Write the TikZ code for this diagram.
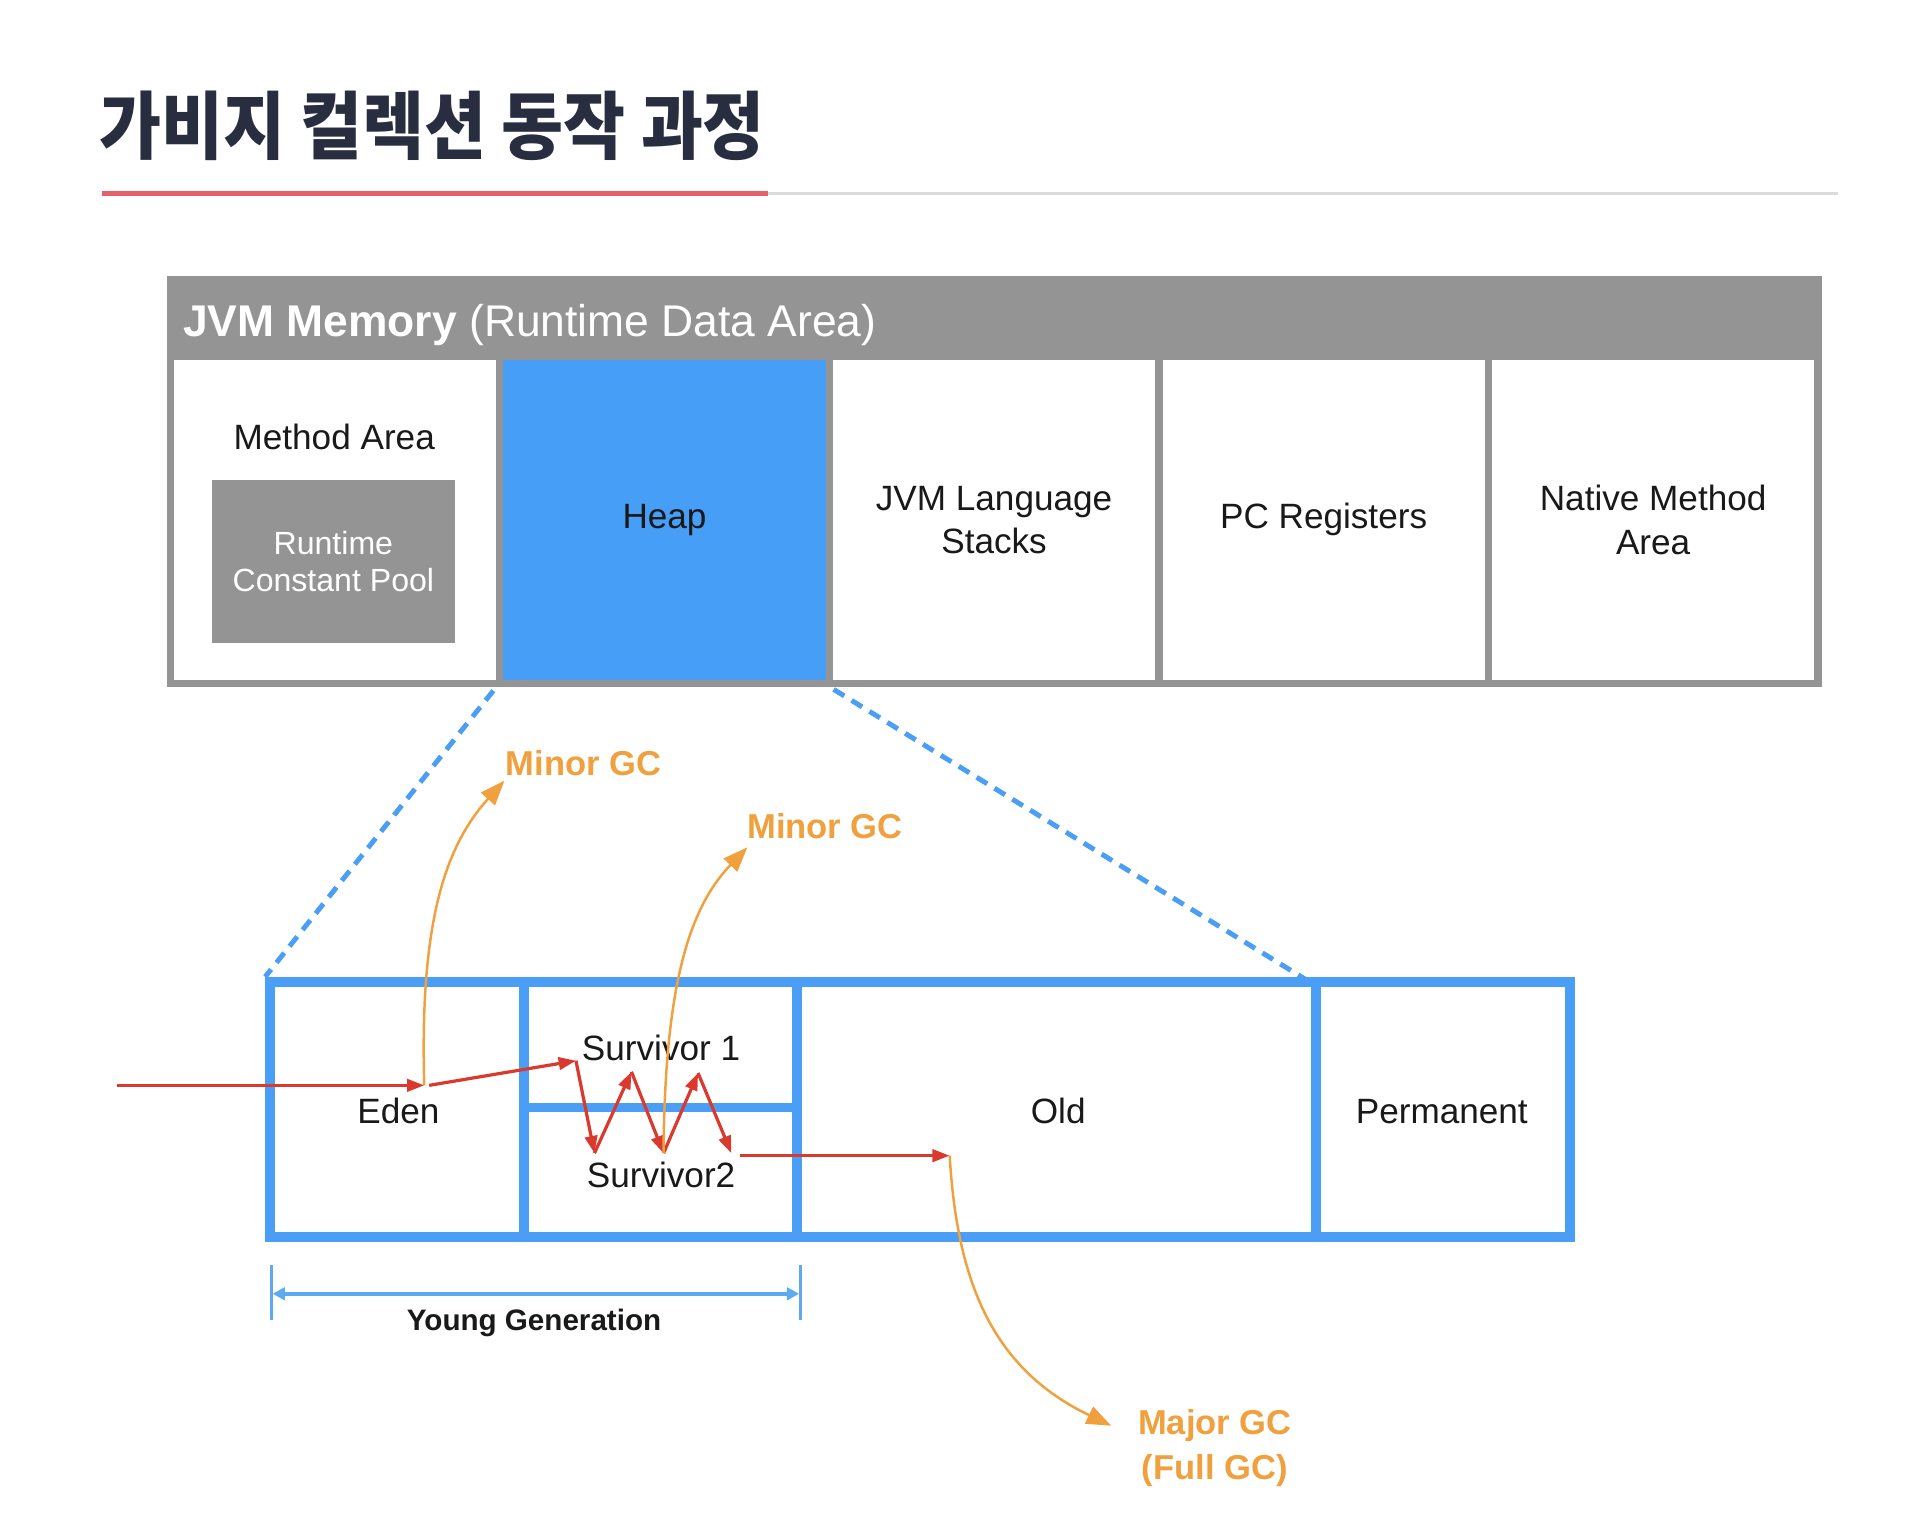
\documentclass[tikz,border=0pt]{standalone}
\usepackage{fontspec}
\usepackage{graphicx}
\setmainfont{Liberation Sans}
\newfontfamily\krfont{Noto Sans CJK KR}
\usetikzlibrary{arrows.meta}
\definecolor{titlec}{RGB}{40,45,63}
\definecolor{redline}{RGB}{229,97,106}
\definecolor{grayline}{RGB}{220,218,220}
\definecolor{jvmgray}{RGB}{148,148,148}
\definecolor{heapblue}{RGB}{71,158,246}
\definecolor{boxblue}{RGB}{74,158,245}
\definecolor{arrred}{RGB}{218,58,46}
\definecolor{gcorange}{RGB}{240,160,60}
\definecolor{yblue}{RGB}{92,170,240}
\definecolor{labelc}{RGB}{25,25,25}
\begin{document}
\begin{tikzpicture}[x=0.5pt,y=-0.5pt,
  cellbox/.style={draw=none,inner sep=0pt,align=center,text=labelc,
    font=\fontsize{14.25}{17.5}\selectfont},
  compart/.style={draw=boxblue,line width=4pt,inner sep=0pt,text=labelc,
    font=\fontsize{14.25}{17.5}\selectfont},
  lbl/.style={inner sep=0pt,align=center,text=labelc,
    font=\fontsize{14.25}{17.5}\selectfont},
  gclbl/.style={inner sep=0pt,align=center,text=gcorange,
    font=\bfseries\fontsize{14}{18}\selectfont},
  redarrow/.style={draw=arrred,line width=1.3pt,
    -{Triangle[length=7pt,width=5pt]}},
  orangearrow/.style={draw=gcorange,line width=1pt,
    -{Triangle[length=10pt,width=7.5pt]}},
  dashblue/.style={draw=boxblue,line width=2pt,dash pattern=on 5pt off 3.5pt},
  ytick/.style={draw=yblue,line width=1pt},
  yarrow/.style={draw=yblue,line width=1.5pt,
    {Triangle[length=5pt,width=5pt]}-{Triangle[length=5pt,width=5pt]}}
]
\useasboundingbox (0,0) rectangle (1560,1244);
\fill[white] (0,0) rectangle (1560,1244);

% title
\node[anchor=west,inner sep=0pt,text=titlec] (title) at (80,102)
  {\krfont\bfseries\fontsize{30}{30}\selectfont\scalebox{0.91}[1]{가비지 컬렉션 동작 과정}};
\draw[redline,line width=2pt] (83,157) -- (623,157);
\draw[grayline,line width=1.5pt] (623,157) -- (1490,157);

% JVM memory box
\node[fill=jvmgray,inner sep=0pt,minimum width=671pt,minimum height=166.5pt] (jvm) at (806,390.5) {};
\node[anchor=base west,inner sep=0pt,text=white,font=\fontsize{18}{18}\selectfont] (jvmtitle) at (148,273)
  {\textbf{JVM Memory} (Runtime Data Area)};

\node[cellbox,fill=white,minimum width=130.6pt,minimum height=129.5pt] (method) at (271.6,421.5) {};
\node[cellbox,fill=heapblue,minimum width=130.6pt,minimum height=129.5pt] (heap) at (538.8,421.5) {Heap};
\node[cellbox,fill=white,minimum width=130.6pt,minimum height=129.5pt] (stacks) at (806,421.5) {JVM Language\\Stacks};
\node[cellbox,fill=white,minimum width=130.6pt,minimum height=129.5pt] (pc) at (1073.2,421.5) {PC Registers};
\node[cellbox,fill=white,minimum width=130.6pt,minimum height=129.5pt] (native) at (1340.4,421.5) {Native Method\\Area};

\node[lbl] (methodlbl) at (271,354) {Method Area};
\node[fill=jvmgray,inner sep=0pt,minimum width=98.75pt,minimum height=66pt,align=center,text=white,
  font=\fontsize{13}{15}\selectfont] (rcp) at (270.3,455) {Runtime\\Constant Pool};

% dashed zoom lines
\coordinate (d1) at (400,560);
\coordinate (d2) at (676,559);
\coordinate (d3) at (1060,795);

% heap generations
\node[compart,minimum width=103pt,minimum height=103.5pt] (eden) at (322,899.5) {};
\node[compart,minimum width=110.5pt,minimum height=51pt] (surv1) at (535.5,847) {};
\node[compart,minimum width=110.5pt,minimum height=52.5pt] (surv2) at (535.5,950.5) {};
\node[compart,minimum width=210.5pt,minimum height=103.5pt] (old) at (856.5,899.5) {};
\node[compart,minimum width=103pt,minimum height=103.5pt] (perm) at (1170,899.5) {};

\node[lbl] (edenlbl) at (323,901) {Eden};
\node[lbl] (s1lbl) at (536,850) {Survivor 1};
\node[lbl] (s2lbl) at (536,953) {Survivor2};
\node[lbl] (oldlbl) at (858,901) {Old};
\node[lbl] (permlbl) at (1169,901) {Permanent};

\draw[dashblue] (d1) -- (eden.north west);
\draw[dashblue] (d2) -- (d3);

% red object flow
\coordinate (in0) at (95,880);
\coordinate (e1) at (344,880);
\coordinate (e2) at (348,880);
\coordinate (s1) at (467,860);
\coordinate (z1) at (482,935);
\coordinate (z2) at (512,869);
\coordinate (z3) at (538,935);
\coordinate (z4) at (566,870);
\coordinate (z5) at (593,935);
\coordinate (o0) at (600,937);
\coordinate (o1) at (770,937);
\draw[redarrow] (in0) -- (e1);
\draw[redarrow] (e2) -- (s1);
\draw[redarrow] (s1) -- (z1);
\draw[redarrow] (z1) -- (z2);
\draw[redarrow] (z2) -- (z3);
\draw[redarrow] (z3) -- (z4);
\draw[redarrow] (z4) -- (z5);
\draw[redarrow] (o0) -- (o1);

% GC arrows
\coordinate (g1) at (409,633);
\coordinate (g2) at (606,687);
\coordinate (g3) at (901,1156);
\draw[orangearrow] (e1) .. controls (340,745) and (362,685) .. (g1);
\draw[orangearrow] (z3) .. controls (539,795) and (560,735) .. (g2);
\draw[orangearrow] (o1) .. controls (776,1040) and (805,1110) .. (g3);

\node[gclbl] (mg1) at (473,619) {Minor GC};
\node[gclbl] (mg2) at (669,670) {Minor GC};
\node[gclbl] (maj) at (985,1174) {Major GC\\(Full GC)};

% young generation dimension
\coordinate (t1a) at (220,1026);
\coordinate (t1b) at (220,1070);
\coordinate (t2a) at (649,1026);
\coordinate (t2b) at (649,1070);
\coordinate (yl) at (221,1049);
\coordinate (yr) at (648,1049);
\draw[ytick] (t1a) -- (t1b);
\draw[ytick] (t2a) -- (t2b);
\draw[yarrow] (yl) -- (yr);
\node[inner sep=0pt,text=labelc,font=\bfseries\fontsize{12}{12}\selectfont] (young) at (433,1073) {Young Generation};
\end{tikzpicture}
\end{document}
